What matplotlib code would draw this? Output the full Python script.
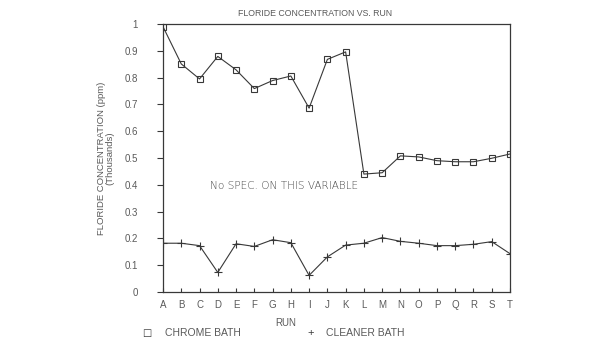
import numpy as np
import matplotlib
matplotlib.use('Agg')
import matplotlib.pyplot as plt

# Runs A..T
runs = list('ABCDEFGHIJKLMNOPQRST')

# Floride concentration (ppm, thousands)
chrome = [0.99, 0.851, 0.795, 0.879, 0.829, 0.759, 0.789, 0.806, 0.686, 0.868,
          0.896, 0.44, 0.445, 0.508, 0.504, 0.49, 0.486, 0.486, 0.499, 0.515]
cleaner = [0.182, 0.182, 0.173, 0.073, 0.18, 0.17, 0.195, 0.184, 0.062, 0.131,
           0.175, 0.182, 0.203, 0.189, 0.182, 0.173, 0.173, 0.178, 0.188, 0.143]

yticks = [0, 0.1, 0.2, 0.3, 0.4, 0.5, 0.6, 0.7, 0.8, 0.9, 1]
ytick_labels = ['0', '0.1', '0.2', '0.3', '0.4', '0.5', '0.6', '0.7', '0.8', '0.9', '1']

ink = '#383838'
txt = '#5a5a5a'
plt.rcParams['font.family'] = ['Liberation Sans', 'DejaVu Sans']

W, H = 615, 350
fig = plt.figure(figsize=(6.15, 3.5), dpi=100)
ax = fig.add_axes([163 / W, 58 / H, 347 / W, 268 / H])

x = np.arange(len(runs))
ax.plot(x, chrome, color=ink, lw=0.8, marker='s', ms=4.3, mfc='none', mec=ink, mew=0.8)
ax.plot(x, cleaner, color=ink, lw=0.8, marker='+', ms=5.5, mec=ink, mew=0.8)

ax.set_xlim(0, len(runs) - 1)
ax.set_ylim(0, 1)
ax.set_xticks(x)
ax.set_xticklabels(runs)
ax.set_yticks(yticks)
ax.set_yticklabels(ytick_labels)
ax.tick_params(colors=ink, labelcolor=txt, labelsize=7, width=0.8)
ax.tick_params(axis='x', direction='in', length=3, pad=6)
ax.tick_params(axis='y', direction='out', length=4, pad=14)
for s in ax.spines.values():
    s.set_color(ink)
    s.set_linewidth(0.9)

fig.text(315 / W, 1 - 14 / H, 'FLORIDE CONCENTRATION VS. RUN', fontsize=6.3, color=txt,
         ha='center', va='center')
fig.text(286 / W, 1 - 323 / H, 'RUN', fontsize=7, color=txt, ha='center', va='center')
ax.set_ylabel('FLORIDE CONCENTRATION (ppm)\n(Thousands)', fontsize=6.8, color=txt,
              labelpad=7, linespacing=0.95)

fig.text(210 / W, 1 - 186 / H, 'No SPEC. ON THIS VARIABLE', fontsize=7.6, color='#444444',
         va='center', family=['DejaVu Sans'], fontweight='light')

# legend row below the plot
ly = 1 - 333 / H
fig.text(147 / W, ly, '\u25a1', fontsize=7, color=ink, ha='center', va='center',
         family=['DejaVu Sans'])
fig.text(165 / W, ly, 'CHROME BATH', fontsize=7.5, color=txt, va='center')
fig.text(311 / W, ly, '+', fontsize=8, color=ink, ha='center', va='center')
fig.text(326 / W, ly, 'CLEANER BATH', fontsize=7.5, color=txt, va='center')

fig.savefig('out.png', dpi=100)
